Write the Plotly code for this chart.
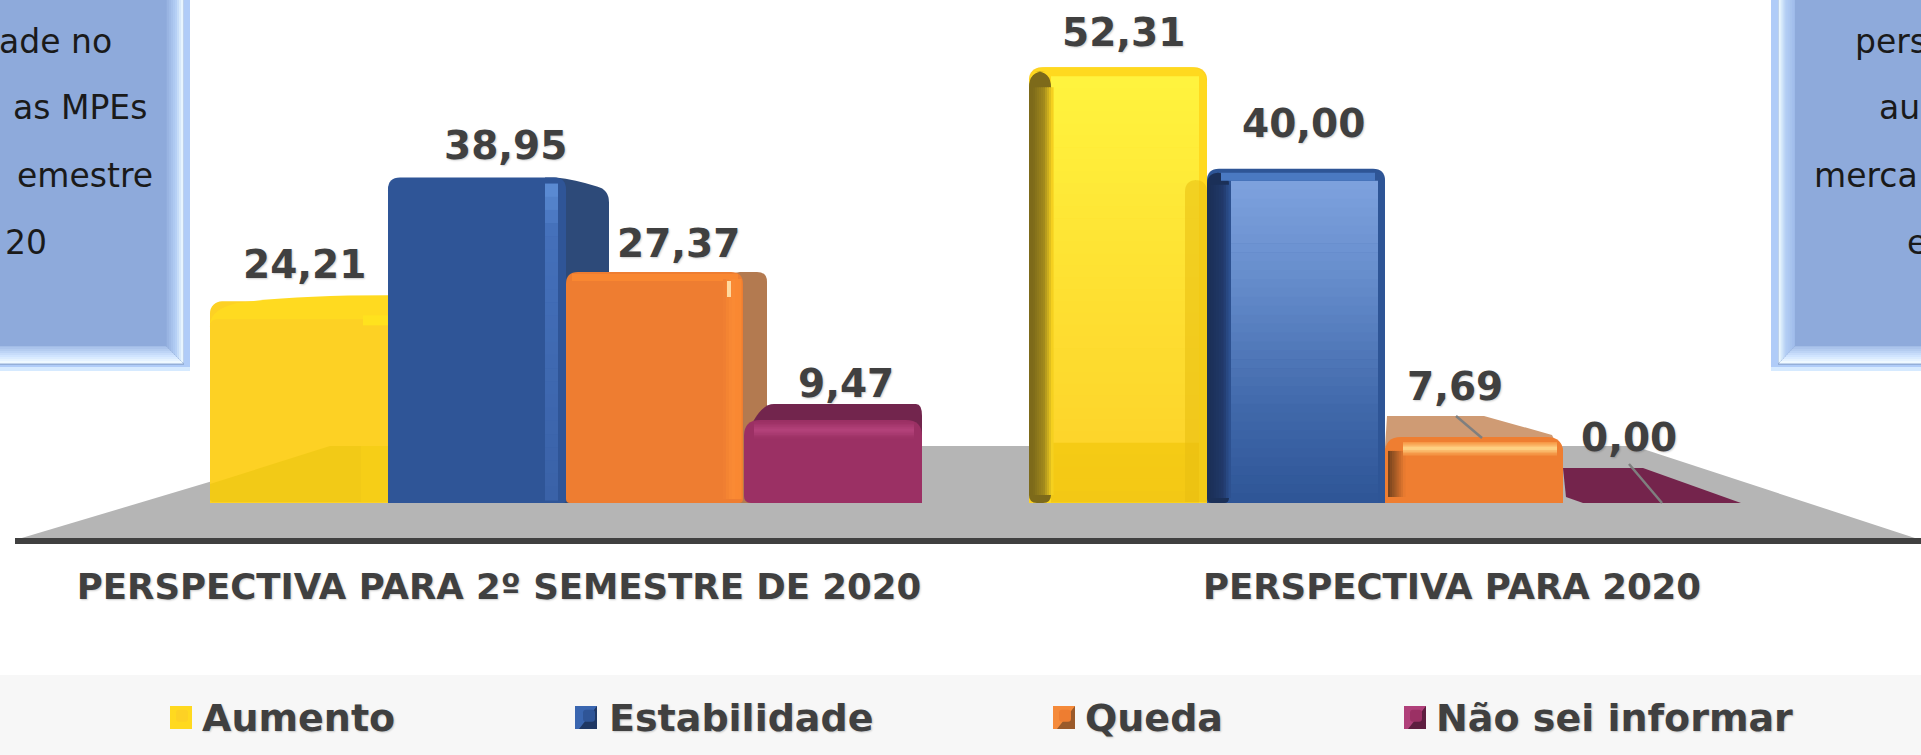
import plotly.graph_objects as go

categories = ["PERSPECTIVA PARA 2º SEMESTRE DE 2020", "PERSPECTIVA PARA 2020"]
series_names = ["Aumento", "Estabilidade", "Queda", "Não sei informar"]
aumento = [24.21, 52.31]
estabilidade = [38.95, 40.00]
queda = [27.37, 7.69]
nao_sei = [9.47, 0.00]
series_values = [aumento, estabilidade, queda, nao_sei]
series_colors = ["#FDD124", "#2F5597", "#EE7D31", "#9B3064"]

W, H, PLOT_H = 1921, 755, 540
CENTER0, STEP, BAR_W = 566, 819, 178
BASE_Y, PX_PER_UNIT = 503, 8.33
DARK = "#404040"
FONT = "DejaVu Sans"
SHADOW = "1px 1px 2px rgba(0,0,0,0.2)"


def X(px):
    return px / W


def Y(py):
    return 1 - py / PLOT_H


def vy(v):
    return BASE_Y - PX_PER_UNIT * v


def bx(group, i):
    return CENTER0 + group * STEP + (i - 2) * BAR_W


shapes = []


def P(a, b):
    return f"{X(a):.5f},{Y(b):.5f}"


def path(d, color, opacity=1, layer="above"):
    shapes.append(dict(type="path", path=d, xref="paper", yref="paper", fillcolor=color,
                       line_width=0, opacity=opacity, layer=layer))


def poly(pts, color, opacity=1, layer="above"):
    path("M" + " L".join(P(a, b) for a, b in pts) + " Z", color, opacity, layer)


def rect(x0, y0, x1, y1, color, opacity=1, layer="above"):
    shapes.append(dict(type="rect", x0=X(x0), x1=X(x1), y0=Y(y0), y1=Y(y1), xref="paper", yref="paper",
                       fillcolor=color, line_width=0, opacity=opacity, layer=layer))


def line(x0, y0, x1, y1, color, width):
    shapes.append(dict(type="line", x0=X(x0), x1=X(x1), y0=Y(y0), y1=Y(y1), xref="paper", yref="paper",
                       line=dict(color=color, width=width), layer="above"))


def rr(x0, y0, x1, y1, color, r=12, rb=5, opacity=1):
    d = (f"M{P(x0, y0 + r)} Q{P(x0, y0)} {P(x0 + r, y0)} L{P(x1 - r, y0)} Q{P(x1, y0)} {P(x1, y0 + r)} "
         f"L{P(x1, y1 - rb)} Q{P(x1, y1)} {P(x1 - rb, y1)} L{P(x0 + rb, y1)} Q{P(x0, y1)} {P(x0, y1 - rb)} Z")
    path(d, color, opacity)


def hx(c):
    return tuple(int(c[i:i + 2], 16) for i in (1, 3, 5))


def grad(stops, t):
    for (t0, c0), (t1, c1) in zip(stops, stops[1:]):
        if t <= t1:
            f = (t - t0) / (t1 - t0)
            a, b = hx(c0), hx(c1)
            return "rgb(%d,%d,%d)" % tuple(round(p + (q - p) * f) for p, q in zip(a, b))
    return stops[-1][1]


def vgrad(x0, y0, x1, y1, stops, n=36):
    h = (y1 - y0) / n
    for k in range(n):
        rect(x0, y0 + k * h, x1, y0 + (k + 1) * h + 0.6, grad(stops, (k + 0.5) / n))


def hgrad(x0, y0, x1, y1, stops, n=12):
    w = (x1 - x0) / n
    for k in range(n):
        rect(x0 + k * w, y0, x0 + (k + 1) * w + 0.6, y1, grad(stops, (k + 0.5) / n))


# page furniture -----------------------------------------------------------
rect(0, 675, W, H, "#F7F7F7", layer="below")
poly([(15, 540), (330, 446), (1634, 446), (1921, 540)], "#B5B5B5", layer="below")
rect(15, 538, W, 544, DARK, layer="below")

BOX = "#8EAADB"
N = 9
# left box
rect(0, 0, 190, 371, "#B0CCF8", layer="below")
rect(0, 367, 190, 371, "#D6EAFF", layer="below")
rect(0, 0, 184, 365, "#94AFD8", layer="below")
for k in range(N):
    sx, sy = 18 / N, 18 / N
    xa, ya = 165 + k * sx, 345 + k * sy
    t = (k + 0.5) / N
    poly([(xa, 0), (xa + sx + .5, 0), (xa + sx + .5, ya + sy), (xa, ya)],
         grad([(0, BOX), (0.6, "#B4CFF5"), (1, "#F0FBFF")], t), layer="below")
    poly([(0, ya), (xa, ya), (xa + sx, ya + sy + .5), (0, ya + sy + .5)],
         grad([(0, "#9DB8E4"), (0.6, "#CFE3FF"), (1, "#F4FCFF")], t), layer="below")
rect(0, 0, 166, 346, BOX, layer="below")
# right box
rect(1771, 0, W, 371, "#B0CCF8", layer="below")
rect(1771, 367, W, 371, "#D6EAFF", layer="below")
rect(1778, 0, W, 365, "#94AFD8", layer="below")
for k in range(N):
    sx, sy = 17 / N, 18 / N
    xa, ya = 1796 - k * sx, 345 + k * sy
    t = (k + 0.5) / N
    poly([(xa, 0), (xa - sx - .5, 0), (xa - sx - .5, ya + sy), (xa, ya)],
         grad([(0, "#9CB8E8"), (0.6, "#B4CFF5"), (1, "#F0FBFF")], t), layer="below")
    poly([(W, ya), (xa, ya), (xa - sx, ya + sy + .5), (W, ya + sy + .5)],
         grad([(0, "#9DB8E4"), (0.6, "#CFE3FF"), (1, "#F4FCFF")], t), layer="below")
rect(1795, 0, W, 346, BOX, layer="below")

# first group ---------------------------------------------------------------
x = [bx(0, i) for i in range(5)]
# Aumento
t = vy(aumento[0])
path(f"M{P(x[0], t + 22)} Q{P(x[0] + 2, t + 8)} {P(x[0] + 26, t + 2)} Q{P(x[0] + 80, t - 6)} {P(x[1], t - 6)} "
     f"L{P(x[1], t + 24)} Z", "#FFDA20")
rr(x[0], t + 18, x[1], BASE_Y, "#FDD124", r=7, rb=3)
rect(x[1] - 25, t + 14, x[1], t + 24, "#FFE21E")
poly([(x[0], 484), (330, 446), (x[1], 446), (x[1], BASE_Y - 1), (x[0] + 2, BASE_Y - 1), (x[0], BASE_Y - 3)], "#F2CA17")
rect(x[1] - 27, 446, x[1], BASE_Y - 1, "#F6CE17")
# Estabilidade
t = vy(estabilidade[0])
path(f"M{P(545, t - 1)} L{P(556, t - 1)} Q{P(575, t + 1)} {P(597, t + 8)} Q{P(609, t + 11)} {P(609, t + 24)} "
     f"L{P(609, BASE_Y)} L{P(545, BASE_Y)} Z", "#2D4A79")
rr(x[1], t - 1, 566, BASE_Y, "#2F5597", r=12, rb=3)
vgrad(545, t + 5, 558, BASE_Y - 3, [(0, "#5E8ED6"), (0.15, "#4470BA"), (1, "#3A62A8")], n=24)
# Queda
t = vy(queda[0])
rr(730, t - 3, 767, BASE_Y, "#B37A50", r=10, rb=2)
rr(x[2], t - 3, 743, BASE_Y, "#EE7D31", r=12, rb=4)
rect(x[2] + 6, t - 1, 738, t + 6, "#F98731")
hgrad(723, t + 4, 741, BASE_Y - 4, [(0, "#EE7D31"), (0.5, "#FA8A34"), (1, "#F98731")], n=6)
rect(727, t + 6, 731, t + 22, "#FFD9A0")
# Não sei informar
t = vy(nao_sei[0])
path(f"M{P(x[3] + 1, t + 16)} Q{P(x[3] + 14, t - 20)} {P(x[3] + 30, t - 20)} L{P(x[4] - 6, t - 20)} "
     f"Q{P(x[4], t - 20)} {P(x[4], t - 8)} L{P(x[4], t + 20)} Z", "#72254D")
rr(x[3], t - 4, x[4], BASE_Y, "#9B3064", r=16, rb=7)
vgrad(x[3] + 10, t - 2, x[4] - 8, t + 14, [(0, "#9B3064"), (0.5, "#B5437B"), (1, "#9B3064")], n=10)

# second group --------------------------------------------------------------
x = [bx(1, i) for i in range(5)]
# Aumento
t = vy(aumento[1])
Y_ST = [(0, "#FFF43E"), (0.45, "#FEE233"), (0.85, "#FDD52B"), (0.86, "#F5CB15"), (1, "#F3C815")]
rr(x[0], t, x[1], BASE_Y, "#FFD91F", r=18, rb=8)
rr(x[0], t + 4, x[0] + 22, BASE_Y, "#7D6A1A", r=16, rb=8)
vgrad(x[0] + 22, t + 9, x[1] - 8, BASE_Y - 1, Y_ST)
hgrad(x[0] + 4, t + 20, x[0] + 24, BASE_Y - 8, [(0, "#7D6A1A"), (0.55, "#A28A1C"), (1, "#FFD91F")], n=10)
rr(1185, 180, x[1], BASE_Y - 1, "#E8BE10", r=12, rb=0, opacity=0.55)
# Estabilidade
t = vy(estabilidade[1]) - 1
rr(x[1], t, x[2], BASE_Y, "#2E5596", r=12, rb=4)
rr(x[1], t + 4, x[1] + 22, BASE_Y, "#1B3058", r=12, rb=5)
hgrad(x[1] + 4, t + 16, x[1] + 24, BASE_Y - 5, [(0, "#1B3058"), (0.6, "#21396A"), (1, "#2F5597")], n=8)
vgrad(x[1] + 24, t + 12, x[2] - 7, BASE_Y - 1,
      [(0, "#7EA2DE"), (0.3, "#668DCC"), (0.7, "#4169AB"), (1, "#2E5596")])
rect(x[1] + 14, t + 4, x[2] - 10, t + 12, "#4A79C2")
# Queda
t0 = vy(queda[1])
poly([(x[2], t0 + 8), (x[2] + 2, t0 - 23), (1484, t0 - 23), (1552, t0 - 4), (x[3] - 4, t0 + 10)], "#CF9B74")
rr(x[2], t0 - 2, x[3], BASE_Y, "#EF7E31", r=16, rb=6)
hgrad(x[2] + 3, t0 + 12, x[2] + 20, BASE_Y - 6, [(0, "#6E3F1C"), (1, "#EF7E31")], n=8)
vgrad(x[2] + 18, t0 + 3, x[3] - 6, t0 + 16, [(0, "#F68F3C"), (0.5, "#FFD98C"), (1, "#F28A3A")], n=8)
line(1456, 416, 1482, 438, "#7F7F7F", 2.5)
# Não sei informar
t0 = vy(nao_sei[1])
poly([(1563, t0 - 35), (1643, t0 - 35), (x[4], t0), (1583, t0), (1566, t0 - 6)], "#74244C")
line(1629, 464, 1662, 503, "#7F7F7F", 2.5)

# marks ---------------------------------------------------------------------
fig = go.Figure()
for i, (name, vals, color) in enumerate(zip(series_names, series_values, series_colors)):
    fig.add_trace(go.Bar(name=name, x=[0, 1], y=vals, marker=dict(color=color, line_width=0, cornerradius=12),
                         showlegend=True, legend="legend" if i == 0 else f"legend{i + 1}", hoverinfo="y+name"))

# value labels: x/y from the data, nudged where the 3-D perspective moved them
nudges = [[(5, 37), (28, 33), (23, 32), (13, 41)], [(5, 35), (7, 46), (-19, 52), (-23, 66)]]
annotations = []
for g in range(2):
    for i, vals in enumerate(series_values):
        dx, dy = nudges[g][i]
        annotations.append(dict(x=g + (i - 1.5) * BAR_W / STEP, y=vals[g], xref="x", yref="y",
                                text=f"{vals[g]:.2f}".replace(".", ","), showarrow=False,
                                xshift=dx, yshift=dy,
                                font=dict(family=FONT, size=39, color=DARK, weight="bold", shadow=SHADOW)))

# text of the two side boxes
for txt, xp, yp, anc in [("ade no", 114, 42, "right"), ("as MPEs", 149, 108, "right"), ("emestre", 155, 175, "right"),
                         ("20", 49, 243, "right"), ("pers", 1853, 42, "left"), ("au", 1877, 108, "left"),
                         ("merca", 1812, 175, "left"), ("e", 1905, 243, "left")]:
    annotations.append(dict(x=X(xp), y=Y(yp), xref="paper", yref="paper", text=txt, showarrow=False, xanchor=anc,
                            yanchor="middle", font=dict(family=FONT, size=33, color="#1A1A1A")))

# legend swatches (enlarged behind the native keys)
sw = [(170, "#FFD91F", "#FFD91F"), (575, "#3A66B0", "#1F3864"), (1053, "#F58A3A", "#9A5A2A"), (1404, "#B0407A", "#5E1E40")]
for xp, c1, c2 in sw:
    rect(xp, 706, xp + 22, 729, c1, layer="below")
    poly([(xp + 22, 706), (xp + 22, 729), (xp + 4, 729)], c2, layer="below")

layout_legends = {}
legend_x = [162, 569, 1045, 1396]
for i, lx in enumerate(legend_x):
    layout_legends["legend" if i == 0 else f"legend{i + 1}"] = dict(
        x=X(lx), y=Y(716), xanchor="left", yanchor="middle", orientation="h", bgcolor="rgba(0,0,0,0)",
        font=dict(family=FONT, size=38, color=DARK, weight="bold", shadow=SHADOW), itemwidth=30)

fig.update_layout(
    width=W, height=H, margin=dict(l=0, r=0, t=0, b=H - PLOT_H, pad=0),
    paper_bgcolor="white", plot_bgcolor="rgba(0,0,0,0)",
    barmode="group", bargap=1 - 4 * BAR_W / STEP, bargroupgap=0, showlegend=True,
    xaxis=dict(range=[(0 - CENTER0) / STEP, (W - CENTER0) / STEP], tickmode="array",
               tickvals=[(499 - CENTER0) / STEP, (1452 - CENTER0) / STEP], ticktext=categories,
               ticks="", showgrid=False, zeroline=False, showline=False, ticklabelstandoff=22,
               tickfont=dict(family=FONT, size=35.5, color=DARK, weight="bold", shadow=SHADOW), automargin=False),
    yaxis=dict(range=[(BASE_Y - PLOT_H) / PX_PER_UNIT, BASE_Y / PX_PER_UNIT], visible=False, automargin=False),
    shapes=shapes, annotations=annotations, **layout_legends,
)
fig.write_html("out.html", config={"displayModeBar": False},
               post_script="document.body.style.margin='0';document.body.style.overflow='hidden';")
